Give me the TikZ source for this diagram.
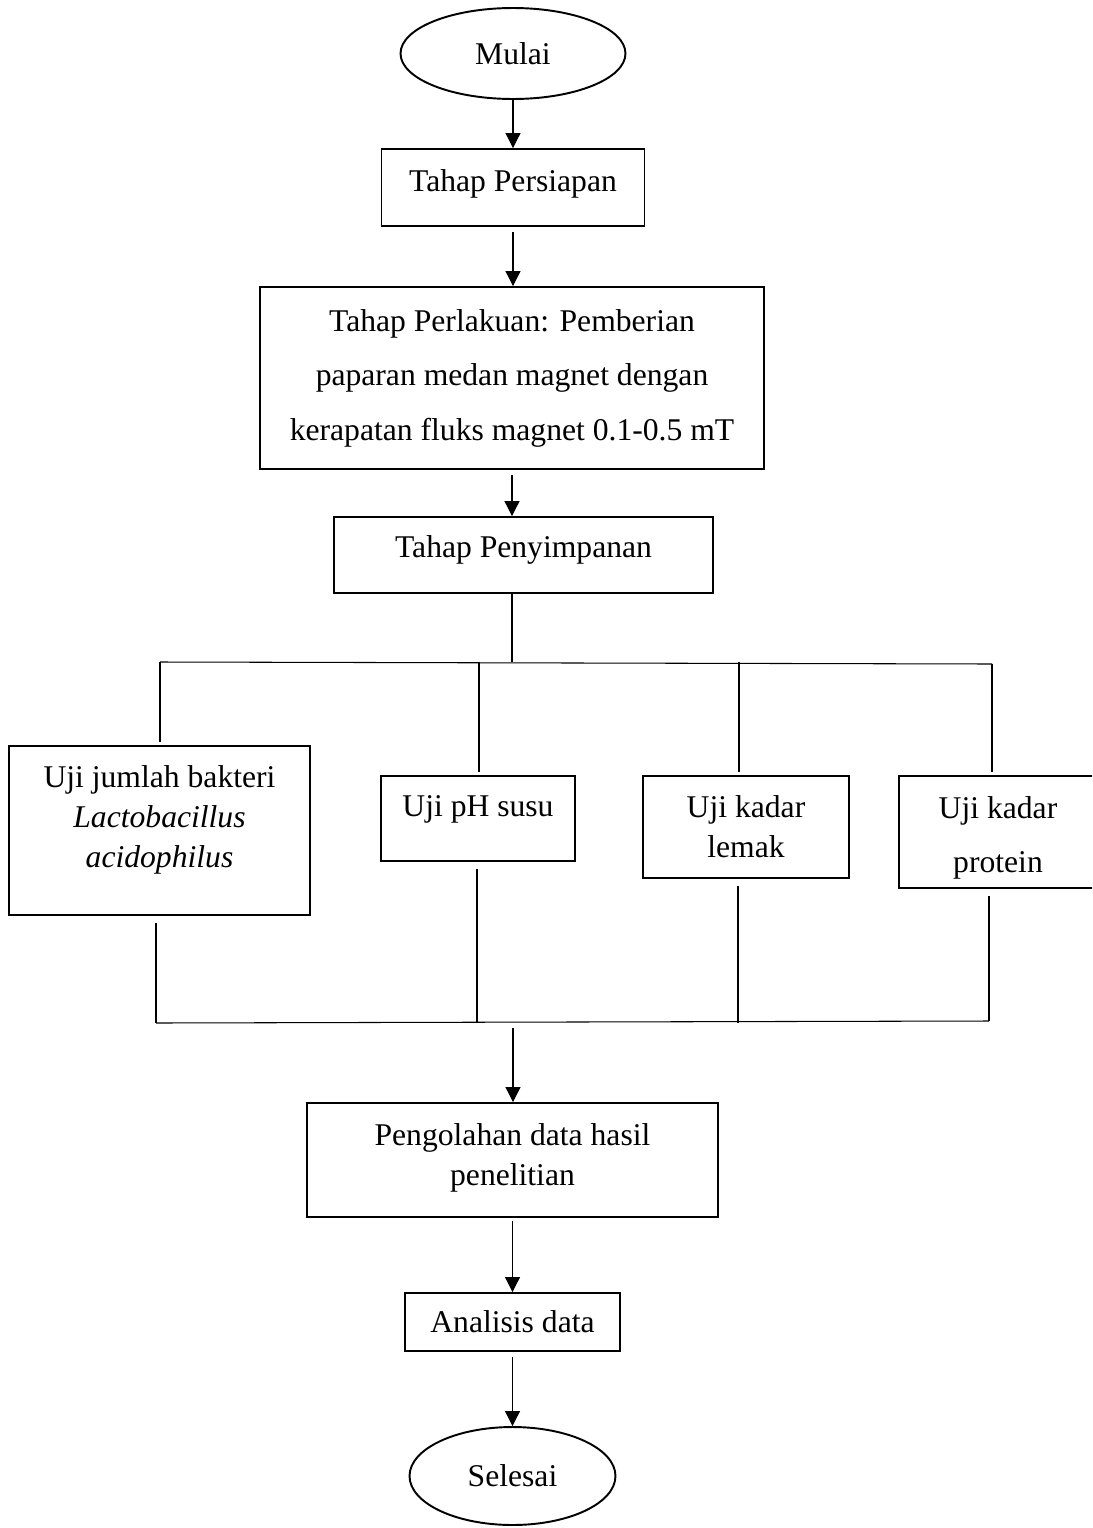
\documentclass[tikz,border=0pt]{standalone}
\usepackage{fontspec}
\setmainfont{Liberation Serif}
\usetikzlibrary{arrows.meta,shapes.geometric}

% push the text of a box up a little (extra depth below the last line)
\newcommand{\droptext}[2]{\raisebox{0pt}[\height][\dimexpr\depth+#1\relax]{#2}}
% push the text of a box down a little (extra height above the first line)
\newcommand{\lifttop}[2]{\raisebox{0pt}[\dimexpr\height+#1\relax][\depth]{#2}}

\begin{document}
\begin{tikzpicture}[x=0.02cm, y=-0.02cm, >={Triangle[length=8.5pt,width=8.5pt]},
  box/.style={draw, line width=1.1pt, align=center, inner sep=0pt,
              font=\fontsize{18}{22.7}\selectfont},
  widelines/.style={font=\fontsize{18}{31}\selectfont},
  oval/.style={draw, ellipse, line width=1.1pt, inner sep=0pt,
               font=\fontsize{18}{22.7}\selectfont},
  link/.style={line width=0.6pt}]

  \useasboundingbox (0,0) rectangle (1092,1528);
  \clip (0,0) rectangle (1092,1528);

  % --- start and the three stages ---
  \node[oval, minimum width=4.5cm, minimum height=1.82cm] (mulai) at (513,53.5) {Mulai};
  \node[box, minimum width=5.26cm, minimum height=1.54cm] (siap) at (513,187.5)
       {\droptext{3.6pt}{Tahap Persiapan}};
  \node[box, widelines, minimum width=10.1cm, minimum height=3.64cm] (laku) at (512,378)
       {Tahap Perlakuan: Pemberian\\ paparan medan magnet dengan\\
        kerapatan fluks magnet 0.1-0.5 mT};
  \node[box, minimum width=7.58cm, minimum height=1.52cm] (simpan) at (523.5,555)
       {\droptext{6pt}{Tahap Penyimpanan}};

  \draw[->, link] (mulai.south -| siap.north) -- (siap.north);
  \draw[->, link, shorten <=3pt] (siap.south) -- (siap.south |- laku.north);
  \draw[->, link, shorten <=3pt] (laku.south) -- (laku.south |- simpan.north);

  % --- the four tests ---
  \node[box, minimum width=6.02cm, minimum height=3.38cm] (bakteri) at (159.5,830.5)
       {Uji jumlah bakteri\\ \textit{Lactobacillus}\\ \droptext{12.5pt}{\textit{acidophilus}}};
  \node[box, minimum width=3.88cm, minimum height=1.7cm] (ph) at (478,818.5)
       {\droptext{10.2pt}{Uji pH susu}};
  \node[box, minimum width=4.12cm, minimum height=2.04cm] (lemak) at (746,827)
       {Uji kadar\\ lemak};
  \node[box, widelines, minimum width=3.96cm, minimum height=2.24cm] (protein) at (998,832)
       {\lifttop{6.8pt}{Uji kadar}\\ protein};

  % branch bus above the tests
  \coordinate (split) at (512,662);
  \coordinate (t1) at (160,662);
  \coordinate (t2) at (479,662);
  \coordinate (t3) at (739,662);
  \coordinate (t4) at (992,664);
  \draw[link] (split |- simpan.south) -- (split);
  \draw[link] (t1) -- (t4);
  \foreach \t/\n in {t1/bakteri, t2/ph, t3/lemak, t4/protein}
    \draw[link, shorten >=2pt] (\t) -- (\t |- \n.north);

  % joining bus below the tests
  \coordinate (join) at (513,1023);
  \coordinate (b1) at (156,1023);
  \coordinate (b2) at (477,1023);
  \coordinate (b3) at (738,1023);
  \coordinate (b4) at (989,1021);
  \draw[link] (b1) -- (b4);
  \foreach \b/\n in {b1/bakteri, b2/ph, b3/lemak, b4/protein}
    \draw[link, shorten >=4pt] (\b) -- (\b |- \n.south);

  % --- processing, analysis, end ---
  \node[box, minimum width=8.22cm, minimum height=2.28cm] (olah) at (512.5,1160)
       {Pengolahan data hasil\\ \droptext{2.4pt}{penelitian}};
  \node[box, minimum width=4.3cm, minimum height=1.16cm] (analisis) at (512.5,1322)
       {Analisis data};
  \node[oval, minimum width=4.12cm, minimum height=1.96cm] (selesai) at (512.5,1476) {Selesai};

  \draw[->, link, shorten <=3pt] (join) -- (join |- olah.north);
  \draw[->, link, shorten <=2pt] (olah.south) -- (analisis.north);
  \draw[->, link, shorten <=3pt] (analisis.south) -- (selesai.north);
\end{tikzpicture}
\end{document}
